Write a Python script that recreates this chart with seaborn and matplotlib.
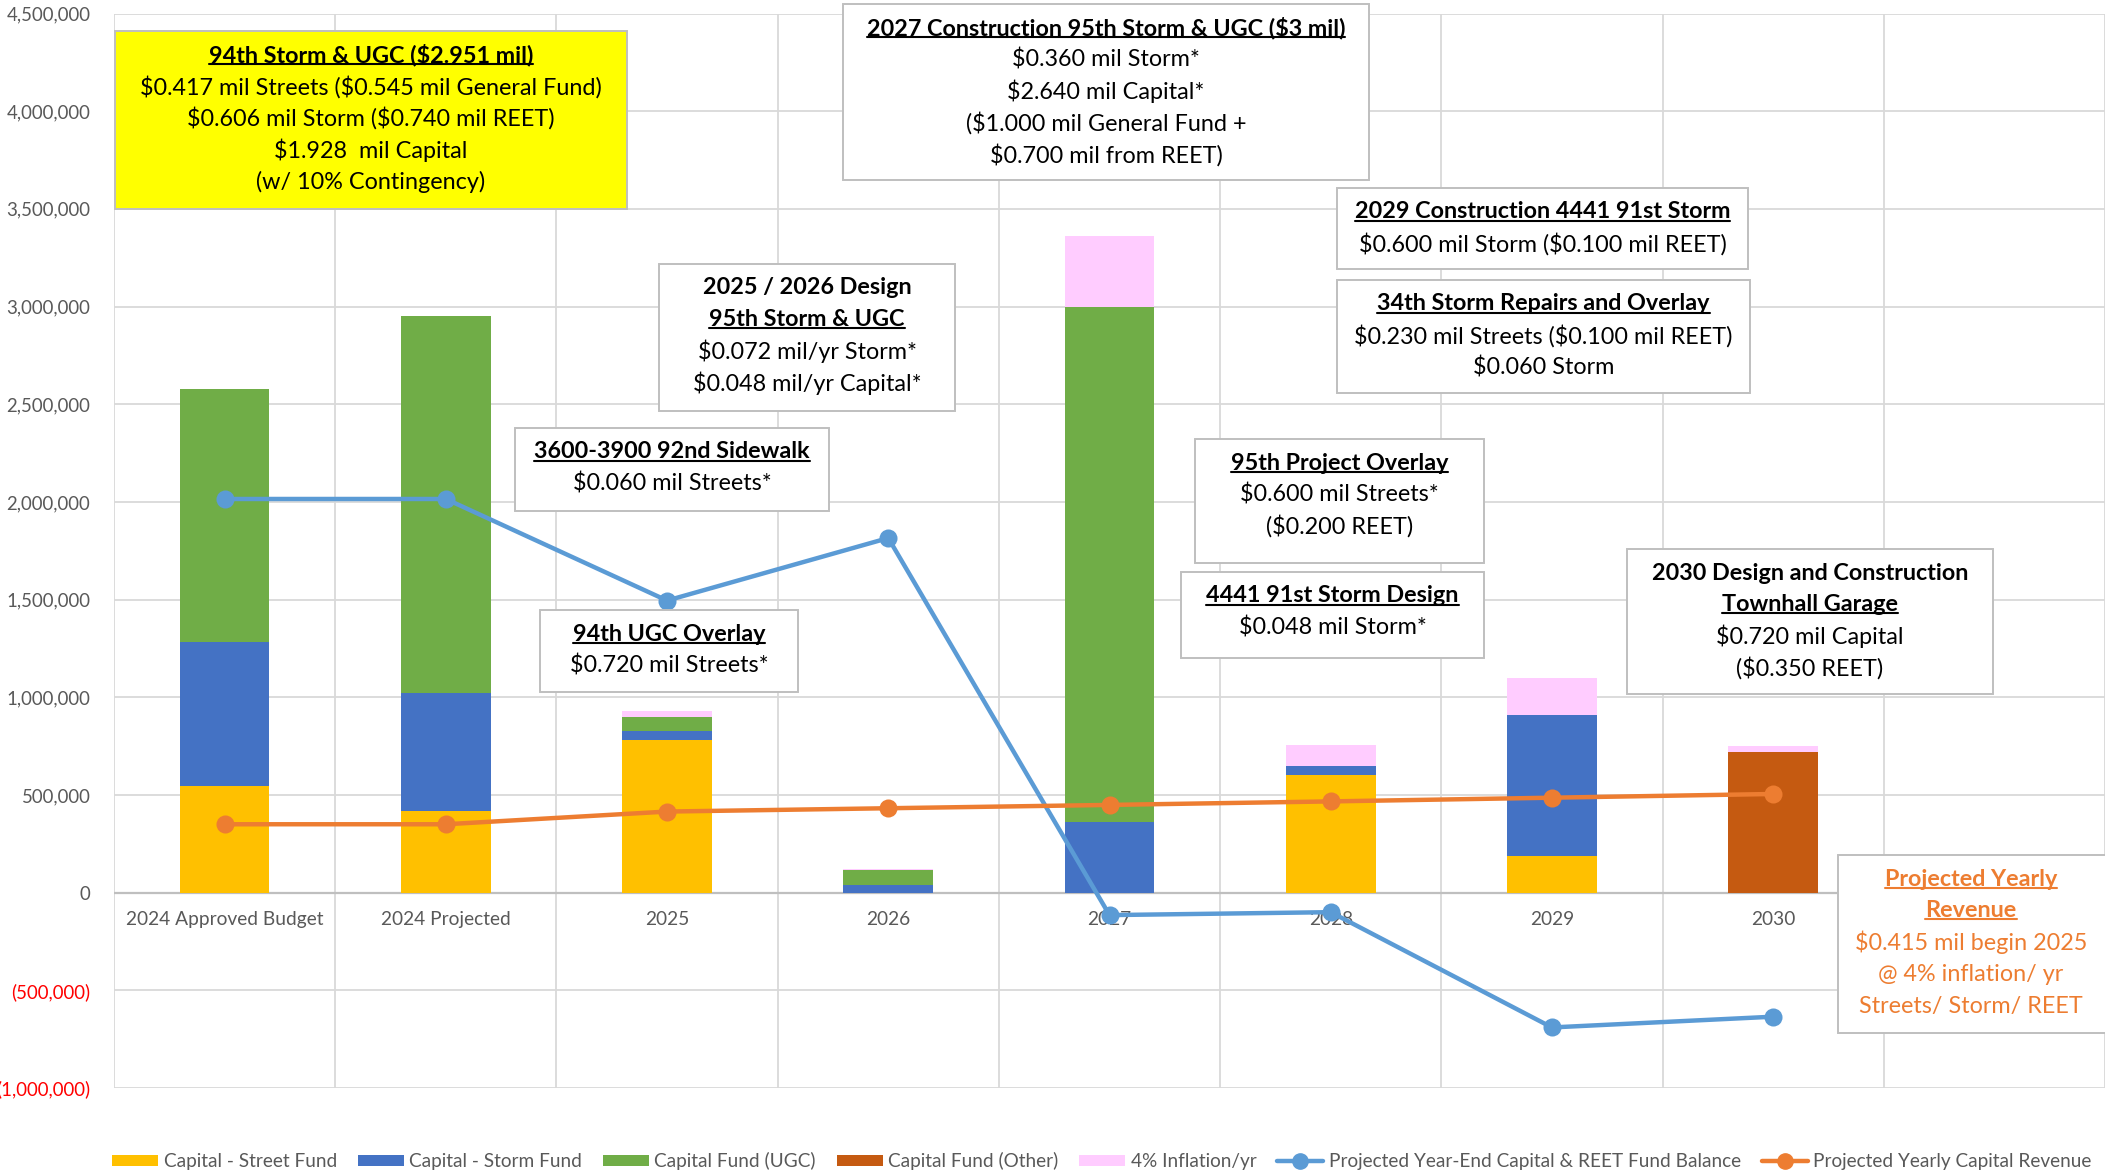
import numpy as np
import matplotlib
matplotlib.use("Agg")
import matplotlib.pyplot as plt
from matplotlib.patches import Rectangle, Patch
from matplotlib.lines import Line2D
from matplotlib.ticker import FuncFormatter, MultipleLocator
import seaborn as sns

# --- data ---
categories = ["2024 Approved Budget", "2024 Projected", "2025", "2026",
              "2027", "2028", "2029", "2030"]
street_fund = [545000, 417000, 780000, 0, 0, 600000, 190000, 0]
storm_fund = [740000, 606000, 45000, 40000, 360000, 48000, 718000, 0]
ugc_fund = [1295000, 1928000, 72000, 76000, 2640000, 0, 0, 0]
other_fund = [0, 0, 0, 0, 0, 0, 0, 720000]
inflation = [0, 0, 35000, 5000, 360000, 106000, 190000, 30000]
fund_balance = [2015000, 2015000, 1495000, 1815000, -115000, -100000, -690000, -635000]
yearly_revenue = [350000, 350000, 415000, 432000, 449000, 467000, 486000, 505000]

series_names = ["Capital - Street Fund", "Capital - Storm Fund", "Capital Fund (UGC)",
                "Capital Fund (Other)", "4% Inflation/yr"]
balance_name = "Projected Year-End Capital & REET Fund Balance"
revenue_name = "Projected Yearly Capital Revenue"

colors = ["#FFC000", "#4472C4", "#70AD47", "#C55A11", "#FFCCFF"]
c_balance = "#5B9BD5"
c_revenue = "#ED7D31"

W, H = 2105, 1173

sns.set_theme(style="white")
plt.rcParams["font.family"] = ["Lato", "DejaVu Sans"]
plt.rcParams["text.parse_math"] = False

fig = plt.figure(figsize=(W / 100, H / 100), dpi=100)
ax = fig.add_axes([114 / W, 1 - 1088 / H, (W - 114) / W, (1088 - 13.5) / H])

# stacked bars
bottom = np.zeros(len(categories))
for vals, name, col in zip([street_fund, storm_fund, ugc_fund, other_fund, inflation],
                           series_names, colors):
    sns.barplot(x=categories, y=vals, bottom=bottom.copy(), color=col, saturation=1,
                width=0.405, errorbar=None, linewidth=0, ax=ax, zorder=2)
    bottom += np.array(vals)

pos = np.arange(len(categories))
sns.lineplot(x=pos, y=fund_balance, color=c_balance, lw=3.2, marker="o", markersize=13,
             markeredgewidth=0, ax=ax, zorder=3, legend=False)
sns.lineplot(x=pos, y=yearly_revenue, color=c_revenue, lw=3.2, marker="o", markersize=13,
             markeredgewidth=0, ax=ax, zorder=3, legend=False)

# axes styling
ax.set_ylim(-1000000, 4500000)
ax.set_xlim(-0.5, 8.45)
ax.yaxis.set_major_locator(MultipleLocator(500000))


def money(v, _):
    if v < 0:
        return f"({abs(v):,.0f})"
    return f"{v:,.0f}"


ax.yaxis.set_major_formatter(FuncFormatter(money))
ax.set_xticks(pos)
ax.set_xticklabels(categories)
ax.set_xticks(np.arange(-0.5, 9.0, 1.0), minor=True)
ax.set_axisbelow(True)
ax.grid(axis="y", which="major", color="#d9d9d9", lw=1.3)
ax.grid(axis="x", which="minor", color="#d9d9d9", lw=1.3)
ax.grid(axis="x", which="major", visible=False)
ax.axhline(0, color="#bfbfbf", lw=1.6, zorder=1)
for s in ax.spines.values():
    s.set_visible(False)
ax.spines["bottom"].set_position(("data", 0))
ax.tick_params(axis="x", which="both", length=0, pad=13, labelsize=13.8, labelcolor="#595959")
ax.tick_params(axis="y", length=0, pad=17, labelsize=13.4, labelcolor="#595959")
for t, v in zip(ax.get_yticklabels(), ax.get_yticks()):
    if v < 0:
        t.set_color("#FF0000")
ax.set_xlabel("")
ax.set_ylabel("")

# legend
handles = [Patch(facecolor=c, edgecolor="none") for c in colors]
handles += [Line2D([], [], color=c_balance, lw=3.2, marker="o", markersize=11),
            Line2D([], [], color=c_revenue, lw=3.2, marker="o", markersize=11)]
labels = series_names + [balance_name, revenue_name]
leg = fig.legend(handles, labels, loc="center", bbox_to_anchor=(1102 / W, 1 - 1161 / H),
                 ncol=7, frameon=False, fontsize=13.7, handlelength=2.4, handleheight=0.55,
                 handletextpad=0.3, columnspacing=1.1, labelcolor="#595959")

# annotation boxes: (left, top, right, bottom) in pixels, lines as (text, bold, underline)
notes = [
    ((115, 31, 627, 209), "#FFFF00", "black", None, [
        ("94th Storm & UGC ($2.951 mil)", True, True),
        ("$0.417 mil Streets ($0.545 mil General Fund)", False, False),
        ("$0.606 mil Storm ($0.740 mil REET)", False, False),
        ("$1.928  mil Capital", False, False),
        ("(w/ 10% Contingency)", False, False)]),
    ((843, 4, 1369, 180), "white", "black", None, [
        ("2027 Construction 95th Storm & UGC ($3 mil)", True, True),
        ("$0.360 mil Storm*", False, False),
        ("$2.640 mil Capital*", False, False),
        ("($1.000 mil General Fund +", False, False),
        ("$0.700 mil from REET)", False, False)]),
    ((1337, 188, 1748, 269), "white", "black", None, [
        ("2029 Construction 4441 91st Storm", True, True),
        ("$0.600 mil Storm ($0.100 mil REET)", False, False)]),
    ((1337, 280, 1750, 393), "white", "black", None, [
        ("34th Storm Repairs and Overlay", True, True),
        ("$0.230 mil Streets ($0.100 mil REET)", False, False),
        ("$0.060 Storm", False, False)]),
    ((659, 264, 955, 411), "white", "black", None, [
        ("2025 / 2026 Design", True, False),
        ("95th Storm & UGC", True, True),
        ("$0.072 mil/yr Storm*", False, False),
        ("$0.048 mil/yr Capital*", False, False)]),
    ((515, 428, 829, 511), "white", "black", None, [
        ("3600-3900 92nd Sidewalk", True, True),
        ("$0.060 mil Streets*", False, False)]),
    ((540, 610, 798, 692), "white", "black", None, [
        ("94th UGC Overlay", True, True),
        ("$0.720 mil Streets*", False, False)]),
    ((1195, 439, 1484, 563), "white", "black", None, [
        ("95th Project Overlay", True, True),
        ("$0.600 mil Streets*", False, False),
        ("($0.200 REET)", False, False)]),
    ((1181, 572, 1484, 658), "white", "black", None, [
        ("4441 91st Storm Design", True, True),
        ("$0.048 mil Storm*", False, False)]),
    ((1627, 549, 1993, 694), "white", "black", None, [
        ("2030 Design and Construction", True, False),
        ("Townhall Garage", True, True),
        ("$0.720 mil Capital", False, False),
        ("($0.350 REET)", False, False)]),
    ((1838, 855, 2125, 1033), "white", "#ED7D31", 1971, [
        ("Projected Yearly", True, True),
        ("Revenue", True, True),
        ("$0.415 mil begin 2025", False, False),
        ("@ 4% inflation/ yr", False, False),
        ("Streets/ Storm/ REET", False, False)]),
]

underlined = []
for (l, t, r, b), face, tcol, cx, lines in notes:
    fig.add_artist(Rectangle((l / W, 1 - b / H), (r - l) / W, (b - t) / H,
                             transform=fig.transFigure, facecolor=face,
                             edgecolor="#bfbfbf", lw=1.4, zorder=4))
    xc = cx if cx is not None else (l + r) / 2
    for i, (s, bold, ul) in enumerate(lines):
        y = t + 24 + i * 31.8
        txt = fig.text(xc / W, 1 - y / H, s, ha="center", va="center", fontsize=16.8,
                       color=tcol, fontweight="bold" if bold else "normal", zorder=5)
        if ul:
            underlined.append((txt, tcol))

fig.canvas.draw()
renderer = fig.canvas.get_renderer()
for txt, col in underlined:
    bb = txt.get_window_extent(renderer)
    yl = bb.y0 + 2
    fig.add_artist(Line2D([bb.x0 / W, bb.x1 / W], [yl / H, yl / H],
                          transform=fig.transFigure, color=col, lw=1.5, zorder=5))

fig.savefig("out.png", dpi=100)
